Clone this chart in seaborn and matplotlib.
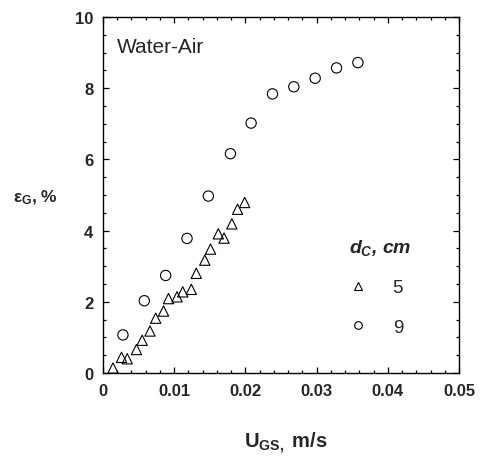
import numpy as np
import pandas as pd
import matplotlib
matplotlib.use("Agg")
import matplotlib.pyplot as plt
from matplotlib.lines import Line2D
from matplotlib.ticker import MultipleLocator
import seaborn as sns

# data
ugs_5 = [0.0014, 0.0026, 0.0034, 0.0047, 0.0055, 0.0066, 0.0074, 0.0085, 0.0092, 0.0104,
         0.0112, 0.0124, 0.0131, 0.0143, 0.0151, 0.0162, 0.0170, 0.0181, 0.0189, 0.0199]
eg_5 = [0.14, 0.44, 0.40, 0.66, 0.92, 1.18, 1.54, 1.74, 2.09, 2.14,
        2.28, 2.35, 2.80, 3.17, 3.48, 3.91, 3.79, 4.19, 4.60, 4.79]
ugs_9 = [0.0028, 0.0058, 0.0088, 0.0118, 0.0148, 0.0179, 0.0208, 0.0238, 0.0268, 0.0298, 0.0328, 0.0358]
eg_9 = [1.07, 2.03, 2.74, 3.78, 4.97, 6.16, 7.02, 7.84, 8.04, 8.28, 8.57, 8.72]
legend_title = r"$d_C$, cm"
series_labels = ["5", "9"]
x_ticks = [0, 0.01, 0.02, 0.03, 0.04, 0.05]
x_tick_labels = ["0", "0.01", "0.02", "0.03", "0.04", "0.05"]
y_ticks = [0, 2, 4, 6, 8, 10]

df = pd.concat([
    pd.DataFrame({"U_GS": ugs_5, "eps_G": eg_5, "dc": "5"}),
    pd.DataFrame({"U_GS": ugs_9, "eps_G": eg_9, "dc": "9"}),
])

sns.set_theme(style="ticks")
plt.rcParams["font.family"] = ["Liberation Sans", "DejaVu Sans"]
plt.rcParams["mathtext.fontset"] = "custom"
plt.rcParams["mathtext.rm"] = "Liberation Sans:bold"
plt.rcParams["mathtext.it"] = "Liberation Sans:bold:italic"
plt.rcParams["mathtext.bf"] = "Liberation Sans:bold"

fig = plt.figure(figsize=(4.86, 4.60), dpi=100)
ax = fig.add_axes([103 / 486, 1 - 374 / 460, 356 / 486, 356 / 460])

markers = {"5": "^", "9": "o"}
for lab in series_labels:
    sub = df[df["dc"] == lab]
    sns.scatterplot(data=sub, x="U_GS", y="eps_G", marker=markers[lab], s=55,
                    color="black", ax=ax, legend=False, zorder=3)
for coll in ax.collections:
    coll.set_facecolor("none")
    coll.set_edgecolor("black")
    coll.set_linewidth(0.8)

ax.set_xlim(0, 0.05)
ax.set_ylim(0, 10)
ax.set_xticks(x_ticks)
ax.set_yticks(y_ticks)
ax.set_xticklabels(x_tick_labels)
ax.set_yticklabels([str(v) for v in y_ticks])
ax.xaxis.set_minor_locator(MultipleLocator(0.002))
ax.yaxis.set_minor_locator(MultipleLocator(0.5))
ax.tick_params(which="both", direction="in", top=True, right=True, color="black", width=0.9)
ax.tick_params(which="major", length=4.5, pad=7, labelsize=12)
ax.tick_params(which="minor", length=2.5)
for lbl in ax.get_xticklabels() + ax.get_yticklabels():
    lbl.set_fontweight("bold")
for sp in ax.spines.values():
    sp.set_visible(True)
    sp.set_linewidth(1.0)
    sp.set_color("black")

ax.set_xlabel("")
ax.set_ylabel("")
fig.text(286 / 486, 1 - 448 / 460, r"U$_{\mathrm{GS,}}$ m/s", ha="center", va="baseline",
         fontsize=14.5, fontweight="bold")
fig.text(35 / 486, 1 - 198 / 460, r"ε$_{\mathrm{G}}$, %", ha="center", va="center",
         fontsize=12.5, fontweight="bold")
ax.text(0.039, 0.902, "Water-Air", transform=ax.transAxes, ha="left", va="baseline", fontsize=15)

handles = [Line2D([], [], linestyle="none", marker=markers[l], markersize=5.5,
                  markerfacecolor="none", markeredgecolor="black", markeredgewidth=0.8)
           for l in series_labels]
leg = ax.legend(handles, series_labels, title=legend_title, loc="upper left",
                bbox_to_anchor=(0.69, 0.382), frameon=False, fontsize=13.5,
                title_fontsize=14, handlelength=1.0, handletextpad=1.35,
                labelspacing=1.19, borderpad=0, borderaxespad=0)
leg._legend_box.align = "left"
leg.get_title().set_fontweight("bold")
leg.get_title().set_fontstyle("italic")

fig.savefig("out.png", dpi=100)
